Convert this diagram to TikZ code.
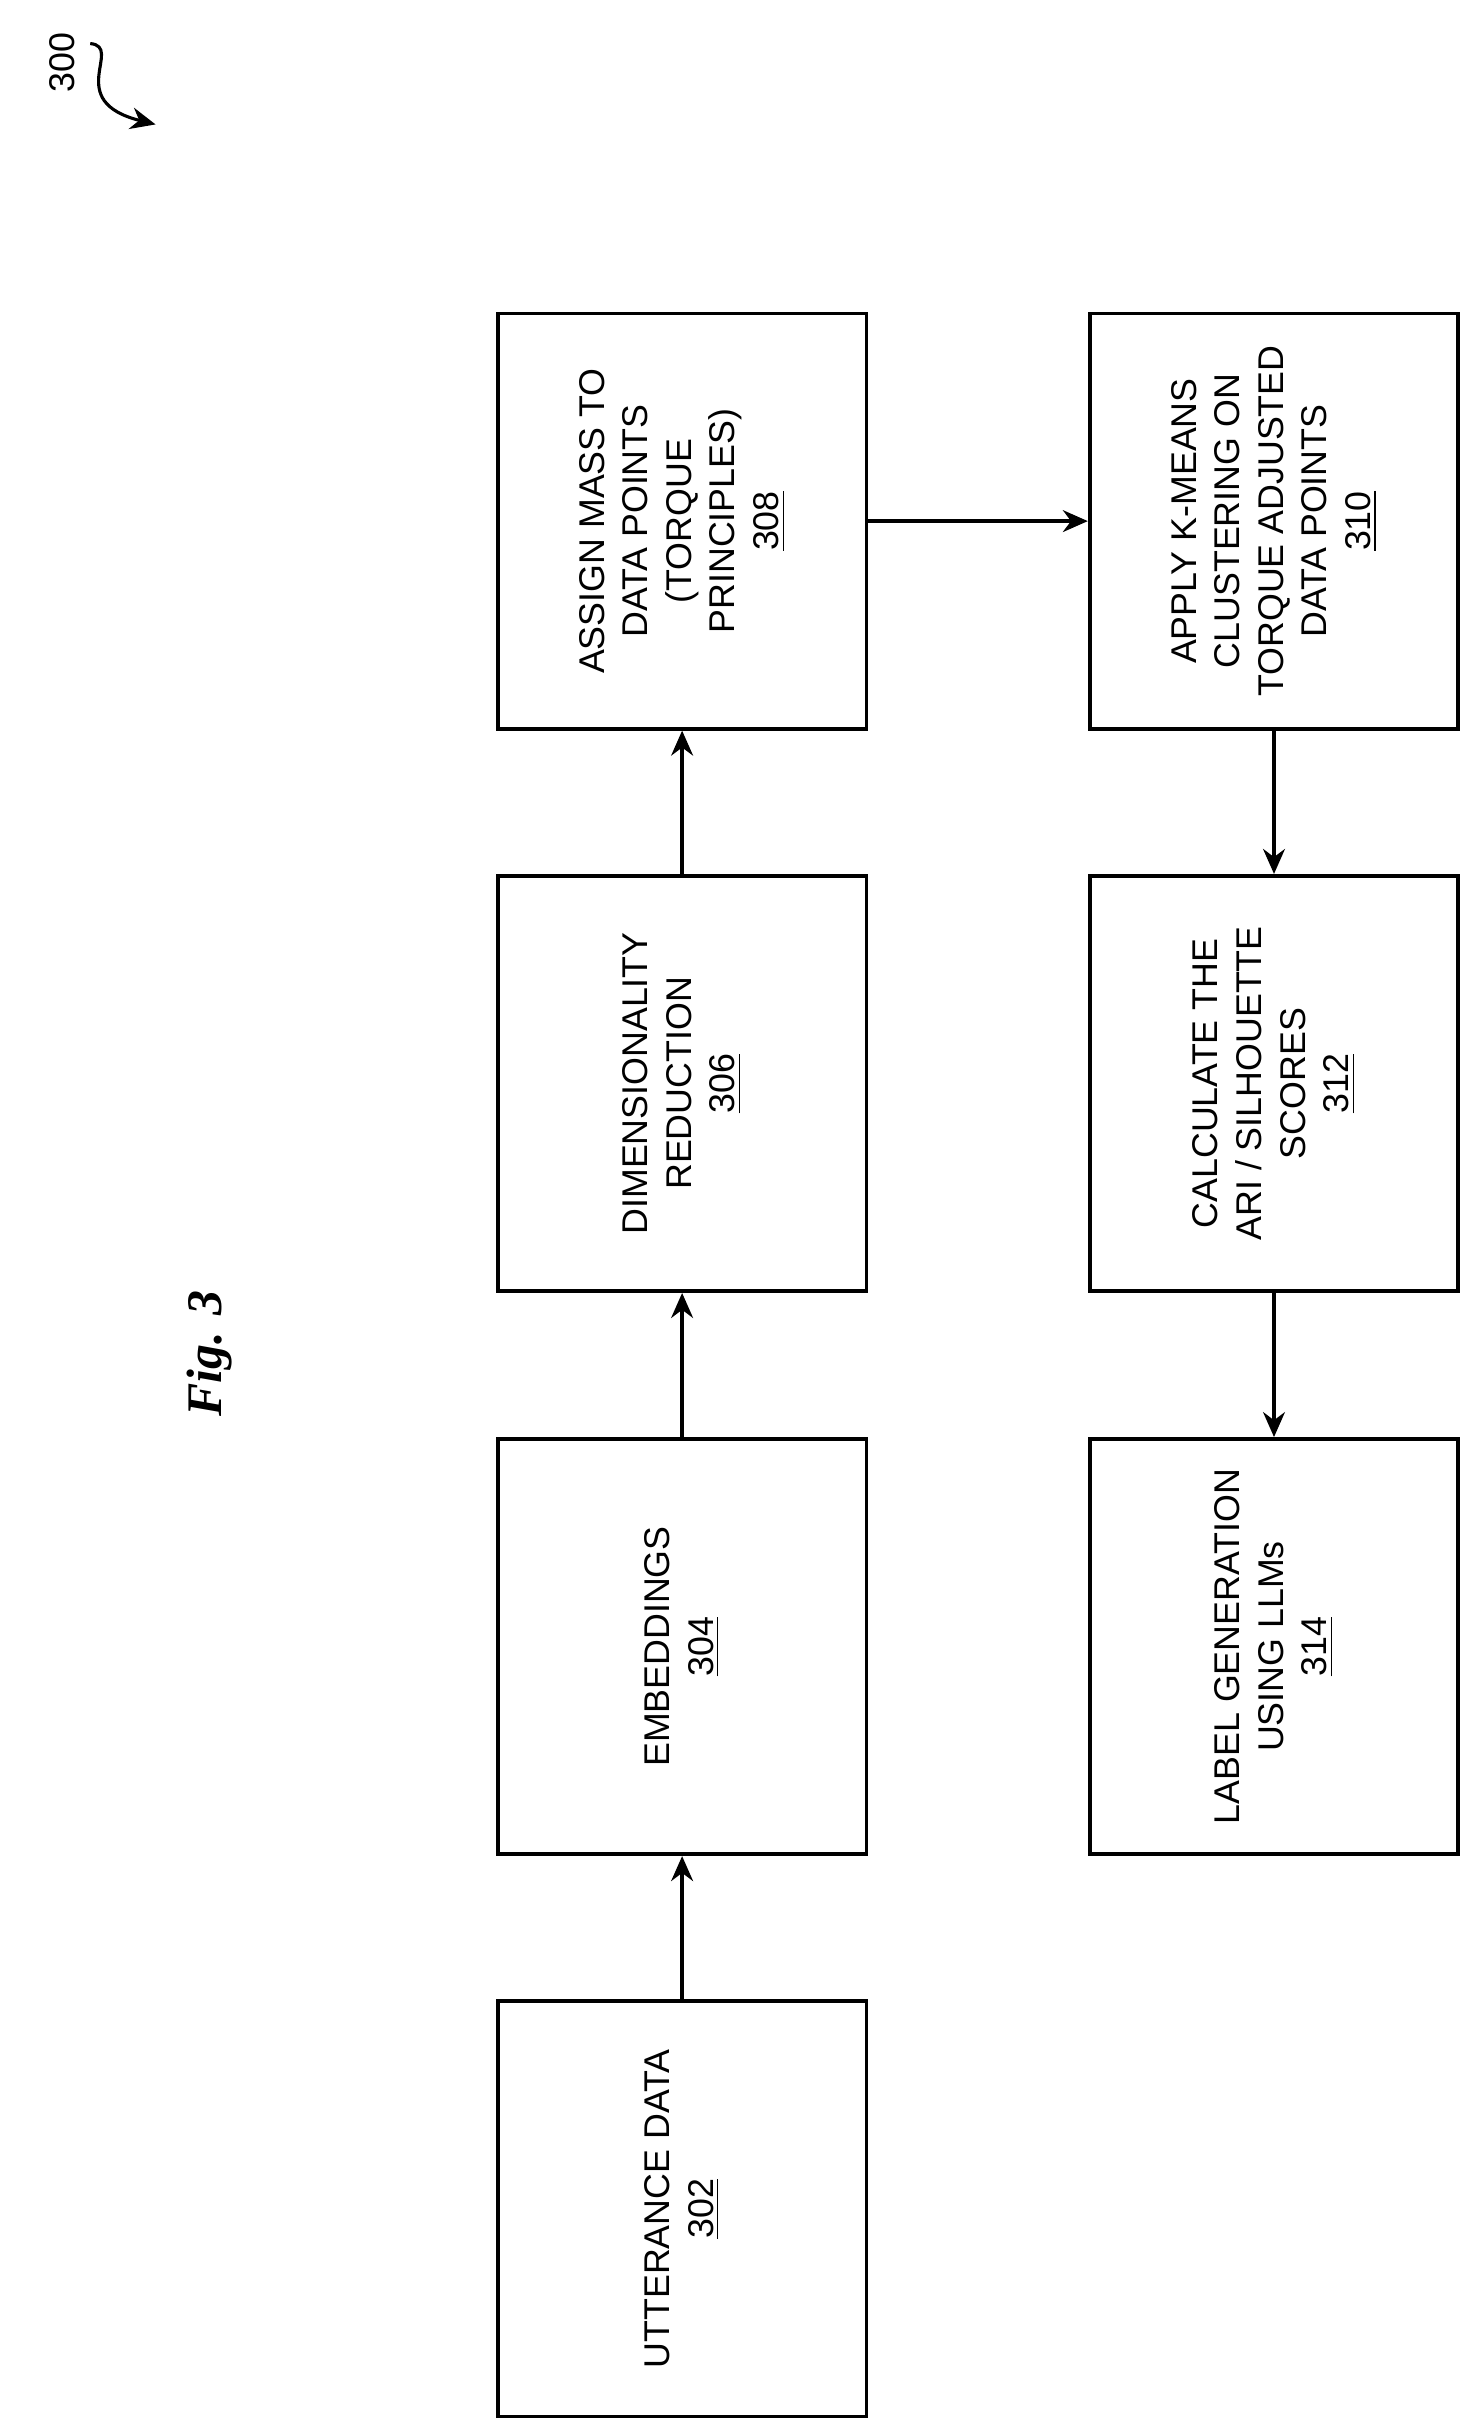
\documentclass[tikz,border=0pt]{standalone}
\usepackage{fontspec}
\setmainfont{Liberation Sans}
\newfontfamily\figfont{Liberation Serif}
\usetikzlibrary{arrows.meta, positioning}
\tikzset{block/.style={draw, line width=1.2pt, fill=white, rectangle, rotate=90,
  minimum width=133.5pt, minimum height=118.5pt, align=center,
  font=\fontsize{11.5}{14}\selectfont}}
\newcommand{\refnum}[1]{\underline{#1}}

\begin{document}
\begin{tikzpicture}[x=0.5pt, y=-0.5pt, >={Stealth[length=8pt,width=7pt]}, line width=1.2pt]
  \useasboundingbox (0,0) rectangle (945,1557);
  \node[block] (utter) at (438.5,1420) {UTTERANCE DATA\\\refnum{302}};
  \node[block] (embed) at (438.5,1058.5) {EMBEDDINGS\\\refnum{304}};
  \node[block] (dimred) at (438.5,696.5) {DIMENSIONALITY\\REDUCTION\\\refnum{306}};
  \node[block] (mass) at (438.5,335) {ASSIGN MASS TO\\DATA POINTS\\(TORQUE\\PRINCIPLES)\\\refnum{308}};
  \node[block] (kmeans) at (819,335) {APPLY K-MEANS\\CLUSTERING ON\\TORQUE ADJUSTED\\DATA POINTS\\\refnum{310}};
  \node[block] (scores) at (819,696.5) {CALCULATE THE\\ARI / SILHOUETTE\\SCORES\\\refnum{312}};
  \node[block] (label) at (819,1058.5) {LABEL GENERATION\\USING LLMs\\\refnum{314}};

  \node[rotate=90, font=\figfont\bfseries\itshape\fontsize{16}{18}\selectfont] (fig) at (135,870) {Fig. 3};
  \node[rotate=90, font=\fontsize{11.5}{14}\selectfont] (num) at (40,40) {300};
  \coordinate (sq) at (58,28);
  \coordinate (sqend) at (100,80);

  \draw[->] (utter) -- (embed);
  \draw[->] (embed) -- (dimred);
  \draw[->] (dimred) -- (mass);
  \draw[->] (mass) -- (kmeans);
  \draw[->] (kmeans) -- (scores);
  \draw[->] (scores) -- (label);
  \draw[->, line width=1pt] (sq) .. controls (80,30) and (40,65) .. (sqend);
\end{tikzpicture}
\end{document}
